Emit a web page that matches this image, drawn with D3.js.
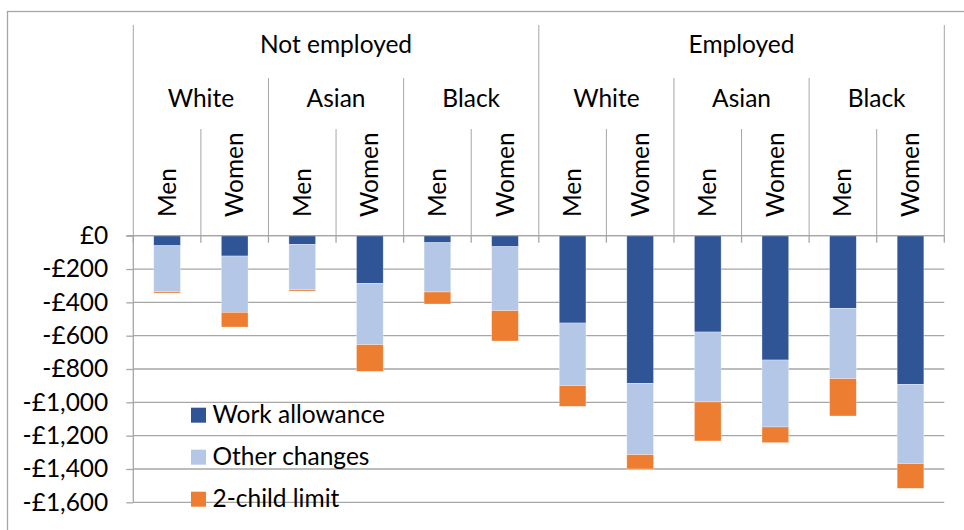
<!DOCTYPE html>
<html><head><meta charset="utf-8">
<script src="https://cdn.jsdelivr.net/npm/d3@7"></script>
<style>
html,body{margin:0;padding:0;background:#fff;}
svg{display:block;font-family:Lato, "Open Sans", sans-serif;}
</style></head>
<body><svg id="c" width="964" height="530"></svg>
<script>
const employment = ["Not employed","Employed"];
const races = ["White","Asian","Black"];
const genders = ["Men","Women"];
const seriesNames = ["Work allowance","Other changes","2-child limit"];
const seriesColors = ["#2F5597","#B4C7E7","#ED7D31"];
// values per bar (12 bars: employment x race x gender), in £
const workAllowance = [-60,-122,-52,-286,-42,-66,-524,-886,-578,-746,-436,-892];
const otherChanges  = [-276,-338,-272,-368,-296,-384,-376,-428,-420,-402,-422,-476];
const twoChildLimit = [-8,-88,-8,-160,-72,-182,-124,-86,-234,-94,-224,-148];
const yTicks = [0,-200,-400,-600,-800,-1000,-1200,-1400,-1600];

const FS = 24.5;
const cats = [];
employment.forEach(e=>races.forEach(r=>genders.forEach(g=>cats.push({e,r,g,key:e+"|"+r+"|"+g}))));
const rows = cats.map((c,i)=>({key:c.key,"Work allowance":workAllowance[i],"Other changes":otherChanges[i],"2-child limit":twoChildLimit[i]}));

const svg = d3.select("#c");
const X0=133.3, X1=944.3, Y0=235.7, Y1=502.3;
const x = d3.scaleBand().domain(cats.map(c=>c.key)).range([X0,X1]).padding(0);
const y = d3.scaleLinear().domain([0,-1600]).range([Y0,Y1]);
const gray="#a6a6a6";

// outer border
svg.append("rect").attr("x",7.5).attr("y",11.5).attr("width",1000).attr("height",600)
  .attr("fill","none").attr("stroke",gray).attr("stroke-width",1.3);

// gridlines
svg.append("g").selectAll("line").data(yTicks).join("line")
  .attr("x1",X0).attr("x2",X1).attr("y1",d=>y(d)).attr("y2",d=>y(d))
  .attr("stroke",gray).attr("stroke-width",1.3);

// y axis
const yAxis = d3.axisLeft(y).tickValues(yTicks).tickSize(7).tickPadding(18)
  .tickFormat(d=> d===0 ? "£0" : "-£"+d3.format(",")(Math.abs(d)));
const ga = svg.append("g").attr("transform",`translate(${X0},0)`).call(yAxis);
ga.select(".domain").attr("d",`M-7,${Y0}H0V${Y1}`).attr("stroke",gray).attr("stroke-width",1.3);
ga.selectAll(".tick line").attr("stroke",gray).attr("stroke-width",1.3);
ga.selectAll(".tick text").attr("font-size",FS).attr("fill","#000").attr("font-family","Lato");

// stacked bars
const stack = d3.stack().keys(seriesNames).offset(d3.stackOffsetDiverging);
const layers = stack(rows);
const bw = x.bandwidth()*0.395;
svg.append("g").selectAll("g").data(layers).join("g").attr("fill",(d,i)=>seriesColors[i])
  .selectAll("rect").data(d=>d).join("rect")
  .attr("x",d=>x(d.data.key)+x.bandwidth()/2-bw/2).attr("width",bw)
  .attr("y",d=>y(d[1])).attr("height",d=>y(d[0])-y(d[1]))
  .attr("stroke","#fff").attr("stroke-opacity",0.5).attr("stroke-width",0.6);

// category axis at top (value 0)
const hdr = svg.append("g");
hdr.append("line").attr("x1",X0).attr("x2",X1).attr("y1",Y0).attr("y2",Y0).attr("stroke",gray).attr("stroke-width",1.3);
const bounds = cats.map(c=>x(c.key)).concat([X1]);
hdr.selectAll(".tk").data(bounds).join("line").attr("class","tk")
  .attr("x1",d=>d).attr("x2",d=>d).attr("y1",Y0).attr("y2",Y0+7).attr("stroke",gray).attr("stroke-width",1.3);
const step = x.step();
cats.forEach((c,i)=>{
  const bx = x(c.key);
  let top;
  if (i%6===0) top=25; else if (i%2===0) top=78; else top=129;
  hdr.append("line").attr("x1",bx).attr("x2",bx).attr("y1",top).attr("y2",Y0).attr("stroke",gray).attr("stroke-width",1);
});
hdr.append("line").attr("x1",X1).attr("x2",X1).attr("y1",25).attr("y2",Y0).attr("stroke",gray).attr("stroke-width",1);

// labels
cats.forEach((c,i)=>{
  const cx = x(c.key)+step/2;
  hdr.append("text").attr("transform",`translate(${cx+8.5},217) rotate(-90)`)
    .attr("font-size",FS).attr("text-anchor","start").text(c.g);
});
races.forEach((r)=>employment.forEach((e)=>{
  const k0 = e+"|"+r+"|Men";
  const cx = x(k0)+step;
  hdr.append("text").attr("x",cx).attr("y",106.5).attr("text-anchor","middle").attr("font-size",FS).text(r);
}));
employment.forEach((e)=>{
  const k0 = e+"|White|Men";
  const cx = x(k0)+step*3;
  hdr.append("text").attr("x",cx).attr("y",53).attr("text-anchor","middle").attr("font-size",FS).text(e);
});

// legend
const lg = svg.append("g");
seriesNames.forEach((s,i)=>{
  const yy = 407.7 + i*42;
  lg.append("rect").attr("x",191).attr("y",yy).attr("width",15).attr("height",15).attr("fill",seriesColors[i]);
  lg.append("text").attr("x",212.5).attr("y",yy+15).attr("font-size",FS).text(s);
});
</script></body></html>
